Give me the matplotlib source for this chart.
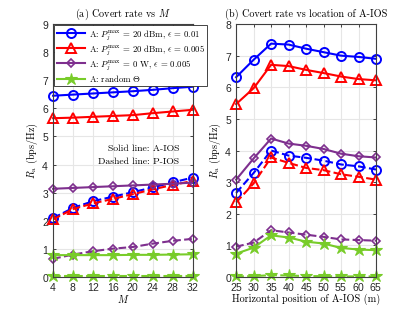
import numpy as np
import matplotlib
matplotlib.use('Agg')
import matplotlib.pyplot as plt

plt.rcParams['mathtext.fontset'] = 'cm'
plt.rcParams['axes.formatter.use_mathtext'] = True
plt.rcParams['font.family'] = ['Liberation Sans', 'DejaVu Sans']

# (a) covert rate vs M
M = [4, 8, 12, 16, 20, 24, 28, 32]
a_blue_s = [6.45, 6.49, 6.53, 6.57, 6.61, 6.66, 6.72, 6.77]
a_red_s = [5.65, 5.67, 5.70, 5.73, 5.76, 5.83, 5.89, 5.95]
a_purp_s = [3.14, 3.17, 3.20, 3.23, 3.26, 3.29, 3.32, 3.36]
a_green_s = [0.78, 0.78, 0.78, 0.78, 0.79, 0.79, 0.80, 0.81]
a_blue_d = [2.10, 2.46, 2.70, 2.86, 3.02, 3.19, 3.37, 3.54]
a_red_d = [2.05, 2.42, 2.62, 2.78, 2.95, 3.12, 3.28, 3.42]
a_purp_d = [0.65, 0.80, 0.92, 1.01, 1.07, 1.19, 1.29, 1.36]
a_green_d = [0.02, 0.02, 0.02, 0.02, 0.02, 0.02, 0.02, 0.02]

# (b) covert rate vs horizontal position of A-IOS
pos = [25, 30, 35, 40, 45, 50, 55, 60, 65]
b_blue_s = [6.32, 6.87, 7.38, 7.35, 7.22, 7.11, 7.00, 6.96, 6.90]
b_red_s = [5.47, 5.97, 6.71, 6.67, 6.55, 6.45, 6.34, 6.26, 6.22]
b_purp_s = [3.08, 3.75, 4.38, 4.22, 4.15, 4.05, 3.90, 3.82, 3.78]
b_green_s = [0.74, 0.93, 1.32, 1.25, 1.12, 1.06, 0.92, 0.87, 0.85]
b_blue_d = [2.66, 3.29, 4.00, 3.84, 3.77, 3.68, 3.56, 3.50, 3.40]
b_red_d = [2.36, 2.96, 3.78, 3.61, 3.45, 3.38, 3.25, 3.17, 3.08]
b_purp_d = [0.96, 1.09, 1.48, 1.41, 1.34, 1.27, 1.19, 1.17, 1.15]
b_green_d = [0.02, 0.03, 0.06, 0.05, 0.03, 0.03, 0.02, 0.02, 0.02]

labels = [r'A: $P_j^{\max}$ = 20 dBm, $\epsilon$ = 0.01',
          r'A: $P_j^{\max}$ = 20 dBm, $\epsilon$ = 0.005',
          r'A: $P_j^{\max}$ = 0 W, $\epsilon$ = 0.005',
          r'A: random $\Theta$']

blue = (0, 0, 1)
red = (1, 0, 0)
purple = (0.494, 0.184, 0.556)
green = (0.47, 0.80, 0.16)

styles = [dict(color=blue, marker='o', ms=6.5, mfc='none', mew=1.4),
          dict(color=red, marker='^', ms=6.5, mfc='none', mew=1.4),
          dict(color=purple, marker='D', ms=4.2, mfc='none', mew=1.2),
          dict(color=green, marker='*', ms=9, mfc=green, mew=0.8)]

cm = {'family': 'cmr10', 'size': 7.3}

fig = plt.figure(figsize=(4.15, 3.12), dpi=100)
ax1 = fig.add_axes([0.128, 0.112, 0.337, 0.811])
ax2 = fig.add_axes([0.569, 0.112, 0.337, 0.811])


def style_ax(ax):
    ax.grid(True, color='#e6e6e6', linewidth=0.8)
    ax.set_axisbelow(True)
    for s in ax.spines.values():
        s.set_color('#404040')
        s.set_linewidth(0.8)
    ax.tick_params(direction='in', length=2.5, width=0.6, labelsize=7.5,
                   colors='#262626', top=True, right=True, pad=3)


solid1 = [a_blue_s, a_red_s, a_purp_s, a_green_s]
dash1 = [a_blue_d, a_red_d, a_purp_d, a_green_d]
for i in range(4):
    ax1.plot(M, solid1[i], '-', lw=1.5, label=labels[i], clip_on=False, **styles[i])
    ax1.plot(M, dash1[i], '--', lw=1.5, clip_on=False, **styles[i])
ax1.set_xlim(4, 32)
ax1.set_ylim(0, 9)
ax1.set_xticks(M)
ax1.set_yticks(range(0, 10))
style_ax(ax1)
ax1.set_title('(a) Covert rate vs $M$', fontdict=cm, pad=5)
ax1.set_xlabel('$M$', fontdict=cm, labelpad=0)
ax1.set_ylabel(r'$R_{\rm a}$ (bps/Hz)', fontdict=cm, labelpad=1)
leg = ax1.legend(loc='upper left', prop={'family': 'cmr10', 'size': 6.3},
                 handlelength=3.2, borderaxespad=0.15, labelspacing=0.12,
                 handletextpad=0.4, borderpad=0.3, fancybox=False, framealpha=1)
leg.get_frame().set_edgecolor('#262626')
leg.get_frame().set_linewidth(0.6)
ax1.text(0.90, 0.505, 'Solid line: A-IOS', transform=ax1.transAxes,
         ha='right', va='center', fontdict={'family': 'cmr10', 'size': 7})
ax1.text(0.90, 0.455, 'Dashed line: P-IOS', transform=ax1.transAxes,
         ha='right', va='center', fontdict={'family': 'cmr10', 'size': 7})

solid2 = [b_blue_s, b_red_s, b_purp_s, b_green_s]
dash2 = [b_blue_d, b_red_d, b_purp_d, b_green_d]
for i in range(4):
    ax2.plot(pos, solid2[i], '-', lw=1.5, clip_on=False, **styles[i])
    ax2.plot(pos, dash2[i], '--', lw=1.5, clip_on=False, **styles[i])
ax2.set_xlim(25, 65)
ax2.set_ylim(0, 8)
ax2.set_xticks(pos)
ax2.set_yticks(range(0, 9))
style_ax(ax2)
ax2.set_title('(b) Covert rate vs location of A-IOS', fontdict=cm, pad=5)
ax2.set_xlabel('Horizontal position of A-IOS (m)', fontdict=cm, labelpad=0)
ax2.set_ylabel(r'$R_{\rm a}$ (bps/Hz)', fontdict=cm, labelpad=1)

fig.savefig('out.png', dpi=100)
